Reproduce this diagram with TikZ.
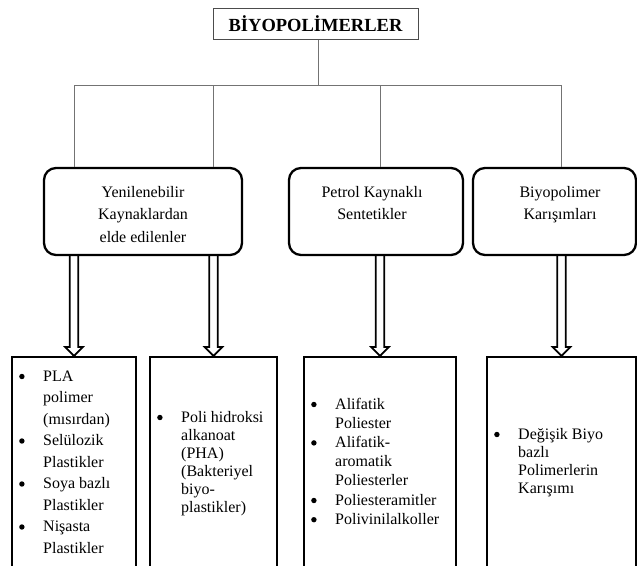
\documentclass[tikz,border=0pt]{standalone}
\usepackage{fontspec}
\setmainfont{Liberation Serif}
\usetikzlibrary{calc}

%% Hollow double-shafted arrow from #1 down to #2.
\newcommand{\dblArrow}[2]{%
  \draw[arrowStyle] ($(#1)+(-\shaft,0)$) -- ($(#2)+(-\shaft,-\headLen)$)
    -- ($(#2)+(-\headWid,-\headLen)$) -- (#2)
    -- ($(#2)+(\headWid,-\headLen)$) -- ($(#2)+(\shaft,-\headLen)$)
    -- ($(#1)+(\shaft,0)$);%
}
%% A round list bullet.
\newcommand{\bul}{\tikz[baseline=-4.5pt]\fill (0pt,0pt) circle (2.7pt);}

\begin{document}
\begin{tikzpicture}[x=1pt,y=-1pt,%%
  lineStyle/.style={-,line width=1pt,draw=black!55},%%
  titleStyle/.style={draw=black!70,line width=1pt,inner sep=0pt,%%
    minimum width=205,minimum height=31},%%
  groupStyle/.style={draw,line width=2.3pt,rounded corners=12pt,%%
    minimum height=87,inner sep=0pt},%%
  listStyle/.style={draw,line width=2pt,minimum height=233,inner sep=0pt},%%
  textStyle/.style={inner sep=0pt,font=\fontsize{16}{22.5}\selectfont},%%
  arrowStyle/.style={-,line width=1.8pt,draw=black}%%
]
%%
%%
\pgfmathsetmacro{\shaft}{4.3}
\pgfmathsetmacro{\headWid}{8.8}
\pgfmathsetmacro{\headLen}{9}
\pgfmathsetmacro{\groupY}{211.5}
\pgfmathsetmacro{\listY}{473.5}
%%
\useasboundingbox (0,0) rectangle (637,565);
\clip (0,0) rectangle (637,565);
%%
%% The title.
\node[titleStyle] (titleBox) at (315.5,23.5)
  {\fontsize{18.5}{22}\selectfont\bfseries BİYOPOLİMERLER};
%%
%% The three groups.
\node[groupStyle,minimum width=198] (renewBox) at (143,\groupY) {};
\node[groupStyle,minimum width=174] (petroBox) at (376,\groupY) {};
\node[groupStyle,minimum width=163] (blendBox) at (554.5,\groupY) {};
\node[textStyle,anchor=base] (renewText) at (143,197)
  {\begin{tabular}[t]{@{}c@{}}Yenilenebilir\\Kaynaklardan\\elde edilenler\end{tabular}};
\node[textStyle,anchor=base] (petroText) at (372,197)
  {\begin{tabular}[t]{@{}c@{}}Petrol Kaynaklı\\Sentetikler\end{tabular}};
\node[textStyle,anchor=base] (blendText) at (560,197)
  {\begin{tabular}[t]{@{}c@{}}Biyopolimer\\Karışımları\end{tabular}};
%%
%% The four lists.
\node[listStyle,minimum width=124] (plaList) at (74,\listY) {};
\node[listStyle,minimum width=127] (phaList) at (213.5,\listY) {};
\node[listStyle,minimum width=152] (synList) at (380,\listY) {};
\node[listStyle,minimum width=149] (mixList) at (561.5,\listY) {};
%%
\node[textStyle,anchor=base west,font=\fontsize{16}{21.5}\selectfont] (plaText) at (19,381)
  {\begin{tabular}[t]{@{}p{24pt}@{}l@{}}
   \bul & PLA\\ & polimer\\ & (mısırdan)\\
   \bul & Selülozik\\ & Plastikler\\
   \bul & Soya bazlı\\ & Plastikler\\
   \bul & Nişasta\\ & Plastikler
   \end{tabular}};
\node[textStyle,anchor=base west,font=\fontsize{16}{18}\selectfont] (phaText) at (157,422)
  {\begin{tabular}[t]{@{}p{24pt}@{}l@{}}
   \bul & Poli hidroksi\\ & alkanoat\\ & (PHA)\\
   & (Bakteriyel\\ & biyo-\\ & plastikler)
   \end{tabular}};
\node[textStyle,anchor=base west,font=\fontsize{16}{19.2}\selectfont] (synText) at (311,409)
  {\begin{tabular}[t]{@{}p{24pt}@{}l@{}}
   \bul & Alifatik\\ & Poliester\\
   \bul & Alifatik-\\ & aromatik\\ & Poliesterler\\
   \bul & Poliesteramitler\\
   \bul & Polivinilalkoller
   \end{tabular}};
\node[textStyle,anchor=base west,font=\fontsize{16}{18}\selectfont] (mixText) at (494,439)
  {\begin{tabular}[t]{@{}p{24pt}@{}l@{}}
   \bul & Değişik Biyo\\ & bazlı\\ & Polimerlerin\\ & Karışımı
   \end{tabular}};
%%
%% The tree from the title to the groups.
\coordinate (bus) at (318,85);
\draw[lineStyle] (bus |- titleBox.south) -- (bus);
\draw[lineStyle] (plaList.north |- renewBox.north) -- (plaList.north |- bus)
  -- (mixList.north |- bus) -- (mixList.north |- blendBox.north);
\draw[lineStyle] (phaList.north |- bus) -- (phaList.north |- renewBox.north);
\draw[lineStyle] (synList.north |- bus) -- (synList.north |- petroBox.north);
%%
%% The arrows from the groups to the lists.
\coordinate (plaFrom) at (plaList.north |- renewBox.south);
\coordinate (phaFrom) at (phaList.north |- renewBox.south);
\coordinate (synFrom) at (synList.north |- petroBox.south);
\coordinate (mixFrom) at (mixList.north |- blendBox.south);
\dblArrow{plaFrom}{plaList.north}
\dblArrow{phaFrom}{phaList.north}
\dblArrow{synFrom}{synList.north}
\dblArrow{mixFrom}{mixList.north}
\end{tikzpicture}
\end{document}
